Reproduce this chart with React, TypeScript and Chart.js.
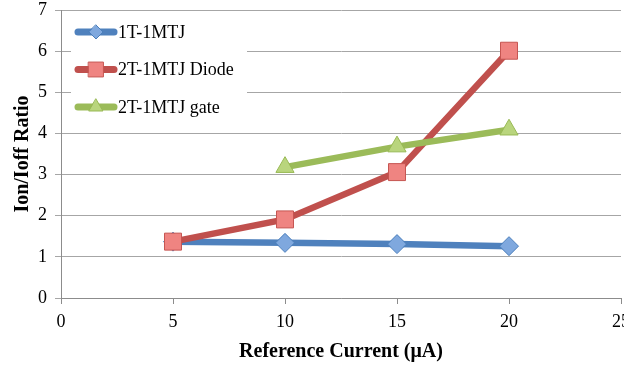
import React, { useEffect, useRef } from "react";
import { Chart, registerables } from "chart.js";

Chart.register(...registerables);

const xValues = [5, 10, 15, 20];
const series1T1MTJ = [1.37, 1.34, 1.31, 1.26];
const series2TDiode = [1.37, 1.91, 3.06, 6.01];
const series2TGate: (number | null)[] = [null, 3.18, 3.68, 4.09];
const xTicks = [0, 5, 10, 15, 20, 25];
const yTicks = [0, 1, 2, 3, 4, 5, 6, 7];
const seriesNames = ["1T-1MTJ", "2T-1MTJ Diode", "2T-1MTJ gate"];

const FONT = "'Liberation Serif', 'Times New Roman', serif";

const styles = [
  { line: "#4F81BD", fill: "#7FA8DE", border: "#4A7EBB", shape: "rectRot", r: 9.5, lr: 7 },
  { line: "#C0504D", fill: "#EF8481", border: "#C65652", shape: "rect", r: 12, lr: 10.5 },
  { line: "#9BBB59", fill: "#B9D57D", border: "#98B954", shape: "triangle", r: 10.5, lr: 8 },
];

function toPoints(vals: (number | null)[]) {
  const pts: { x: number; y: number }[] = [];
  vals.forEach((v, i) => {
    if (v !== null) pts.push({ x: xValues[i], y: v });
  });
  return pts;
}

function drawMarker(ctx: CanvasRenderingContext2D, shape: string, x: number, y: number, r: number) {
  ctx.beginPath();
  if (shape === "rect") {
    const s = Math.SQRT1_2 * r;
    ctx.rect(x - s, y - s, 2 * s, 2 * s);
  } else if (shape === "rectRot") {
    ctx.moveTo(x, y - r);
    ctx.lineTo(x + r, y);
    ctx.lineTo(x, y + r);
    ctx.lineTo(x - r, y);
    ctx.closePath();
  } else {
    ctx.moveTo(x, y - r);
    ctx.lineTo(x + r * Math.sin((2 * Math.PI) / 3), y - r * Math.cos((2 * Math.PI) / 3));
    ctx.lineTo(x + r * Math.sin((4 * Math.PI) / 3), y - r * Math.cos((4 * Math.PI) / 3));
    ctx.closePath();
  }
  ctx.fill();
  ctx.stroke();
}

const legendPlugin = {
  id: "insideLegend",
  beforeDatasetsDraw(chart: any) {
    const ctx: CanvasRenderingContext2D = chart.ctx;
    ctx.save();
    ctx.fillStyle = "#ffffff";
    ctx.fillRect(71, 14, 176, 112);
    const rows = [32, 69.5, 107];
    seriesNames.forEach((name, i) => {
      const st = styles[i];
      const y = rows[i];
      ctx.strokeStyle = st.line;
      ctx.lineWidth = 7;
      ctx.lineCap = "round";
      ctx.beginPath();
      ctx.moveTo(78, y);
      ctx.lineTo(114, y);
      ctx.stroke();
      ctx.fillStyle = st.fill;
      ctx.strokeStyle = st.border;
      ctx.lineWidth = 1;
      drawMarker(ctx, st.shape, 96, y, st.lr);
      ctx.fillStyle = "#000000";
      ctx.font = `18px ${FONT}`;
      ctx.textBaseline = "middle";
      ctx.textAlign = "left";
      ctx.fillText(name, 118, y + 1);
    });
    ctx.restore();
  },
};

export default function App() {
  const ref = useRef<HTMLCanvasElement | null>(null);

  useEffect(() => {
    document.body.style.margin = "0";
    const canvas = ref.current;
    if (!canvas) return;
    const datasets = [series1T1MTJ, series2TDiode, series2TGate].map((vals, i) => ({
      label: seriesNames[i],
      data: toPoints(vals),
      showLine: true,
      borderColor: styles[i].line,
      borderWidth: 6.5,
      backgroundColor: styles[i].fill,
      pointBackgroundColor: styles[i].fill,
      pointBorderColor: styles[i].border,
      pointBorderWidth: 1,
      pointStyle: styles[i].shape,
      pointRadius: styles[i].r,
      pointHoverRadius: styles[i].r,
      tension: 0,
      clip: false,
      order: 3 - i,
    }));
    const chart = new Chart(canvas, {
      type: "scatter",
      data: { datasets },
      plugins: [legendPlugin],
      options: {
        responsive: false,
        animation: false,
        layout: { autoPadding: false, padding: { top: 10, right: 3, left: 0, bottom: 0 } },
        plugins: { legend: { display: false }, tooltip: { enabled: false } },
        scales: {
          x: {
            type: "linear",
            min: 0,
            max: 25,
            afterBuildTicks: (scale: any) => {
              scale.ticks = xTicks.map((v) => ({ value: v }));
            },
            afterFit: (scale: any) => {
              scale.height = 70;
              scale.paddingRight = 0;
              scale.paddingLeft = 0;
            },
            grid: {
              drawOnChartArea: false,
              drawTicks: true,
              tickLength: 6,
              color: "#8c8c8c",
            },
            border: { display: true, color: "#8c8c8c", width: 1 },
            ticks: {
              color: "#000000",
              font: { family: FONT, size: 18 },
              padding: 7,
              maxRotation: 0,
            },
            title: {
              display: true,
              text: "Reference Current (μA)",
              color: "#000000",
              font: { family: FONT, size: 20, weight: "bold" },
              padding: { top: 0, bottom: 4 },
            },
          },
          y: {
            type: "linear",
            min: 0,
            max: 7,
            afterBuildTicks: (scale: any) => {
              scale.ticks = yTicks.map((v) => ({ value: v }));
            },
            afterFit: (scale: any) => {
              scale.width = 61;
              scale.paddingTop = 0;
              scale.paddingBottom = 0;
            },
            grid: {
              drawOnChartArea: true,
              drawTicks: true,
              tickLength: 6,
              color: "#a6a6a6",
            },
            border: { display: true, color: "#8c8c8c", width: 1 },
            ticks: {
              color: "#000000",
              font: { family: FONT, size: 18 },
              padding: 8,
            },
            title: {
              display: true,
              text: "Ion/Ioff Ratio",
              color: "#000000",
              font: { family: FONT, size: 20, weight: "bold" },
              padding: { top: 11, bottom: 0 },
            },
          },
        },
      },
    } as any);
    return () => chart.destroy();
  }, []);

  return (
    <div style={{ position: "fixed", left: 0, top: 0, width: 624, height: 368, background: "#ffffff" }}>
      <canvas ref={ref} width={624} height={368} style={{ display: "block" }} />
    </div>
  );
}
